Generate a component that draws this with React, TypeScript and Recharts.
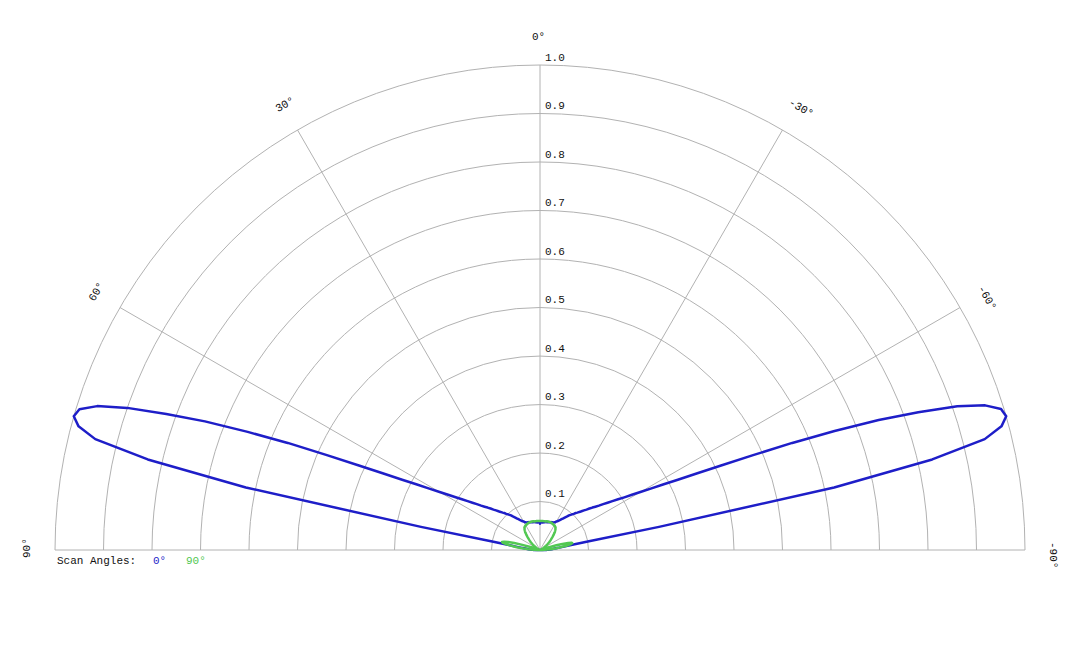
import React from "react";
import {
  RadarChart,
  Radar,
  PolarAngleAxis,
  PolarRadiusAxis,
  Customized,
} from "recharts";

// ---------------- data ----------------
// Pattern cut values, theta in degrees from broadside (0° = up), positive to the left.
// BLUE = scan angle 0°, GREEN = scan angle 90°.
// *_LEFT: theta = 0, 1, 2, ... 90
const BLUE_LEFT = [
  0.054, 0.056, 0.057, 0.058, 0.058, 0.057, 0.057, 0.058, 0.058, 0.058,
  0.058, 0.059, 0.059, 0.059, 0.059, 0.059, 0.060, 0.060, 0.060, 0.061,
  0.061, 0.061, 0.062, 0.062, 0.062, 0.063, 0.063, 0.064, 0.065, 0.066,
  0.068, 0.069, 0.071, 0.073, 0.075, 0.078, 0.080, 0.083, 0.086, 0.089,
  0.093, 0.096, 0.099, 0.102, 0.106, 0.109, 0.113, 0.117, 0.122, 0.127,
  0.133, 0.139, 0.145, 0.152, 0.161, 0.170, 0.180, 0.192, 0.205, 0.221,
  0.239, 0.261, 0.289, 0.319, 0.361, 0.412, 0.481, 0.565, 0.650, 0.740,
  0.820, 0.900, 0.960, 0.993, 1.000, 0.985, 0.945, 0.830, 0.620, 0.250,
  0.100, 0.065, 0.050, 0.040, 0.033, 0.028, 0.024, 0.020, 0.017, 0.015,
  0.013,
];
// *_RIGHT: theta = -1, -2, ... -90
const BLUE_RIGHT = [
  0.056, 0.057, 0.058, 0.058, 0.057, 0.057, 0.058, 0.058, 0.058, 0.058,
  0.059, 0.059, 0.059, 0.059, 0.059, 0.060, 0.060, 0.060, 0.061, 0.061,
  0.061, 0.062, 0.062, 0.062, 0.063, 0.063, 0.064, 0.065, 0.066, 0.068,
  0.069, 0.071, 0.073, 0.075, 0.078, 0.080, 0.083, 0.086, 0.089, 0.093,
  0.096, 0.099, 0.102, 0.106, 0.109, 0.113, 0.117, 0.122, 0.127, 0.133,
  0.139, 0.145, 0.152, 0.161, 0.170, 0.180, 0.192, 0.205, 0.221, 0.239,
  0.261, 0.289, 0.319, 0.361, 0.412, 0.481, 0.565, 0.655, 0.748, 0.830,
  0.910, 0.965, 0.994, 1.000, 0.985, 0.945, 0.830, 0.620, 0.250, 0.100,
  0.065, 0.050, 0.040, 0.033, 0.028, 0.024, 0.020, 0.017, 0.015, 0.013,
];
const GREEN_LEFT = [
  0.060, 0.060, 0.060, 0.060, 0.060, 0.060, 0.060, 0.060, 0.060, 0.060,
  0.060, 0.060, 0.060, 0.061, 0.061, 0.061, 0.061, 0.061, 0.061, 0.061,
  0.061, 0.061, 0.061, 0.061, 0.060, 0.060, 0.060, 0.060, 0.059, 0.059,
  0.059, 0.058, 0.058, 0.057, 0.057, 0.056, 0.054, 0.053, 0.051, 0.049,
  0.047, 0.044, 0.042, 0.039, 0.037, 0.034, 0.032, 0.030, 0.028, 0.026,
  0.024, 0.022, 0.020, 0.018, 0.017, 0.015, 0.013, 0.012, 0.010, 0.009,
  0.008, 0.007, 0.006, 0.005, 0.004, 0.004, 0.003, 0.003, 0.003, 0.004,
  0.005, 0.008, 0.015, 0.025, 0.040, 0.055, 0.068, 0.076, 0.080, 0.078,
  0.072, 0.064, 0.056, 0.048, 0.040, 0.033, 0.026, 0.019, 0.012, 0.006,
  0.002,
];
const GREEN_RIGHT = [
  0.060, 0.060, 0.060, 0.060, 0.060, 0.060, 0.060, 0.060, 0.060, 0.060,
  0.060, 0.060, 0.061, 0.061, 0.061, 0.061, 0.061, 0.061, 0.061, 0.061,
  0.061, 0.061, 0.061, 0.060, 0.060, 0.060, 0.060, 0.059, 0.059, 0.059,
  0.058, 0.058, 0.057, 0.057, 0.056, 0.054, 0.053, 0.051, 0.049, 0.047,
  0.044, 0.042, 0.039, 0.037, 0.034, 0.032, 0.030, 0.028, 0.026, 0.024,
  0.022, 0.020, 0.018, 0.017, 0.015, 0.013, 0.012, 0.010, 0.009, 0.008,
  0.007, 0.006, 0.005, 0.004, 0.004, 0.003, 0.003, 0.003, 0.004, 0.004,
  0.007, 0.013, 0.022, 0.035, 0.048, 0.060, 0.067, 0.068, 0.065, 0.060,
  0.053, 0.046, 0.040, 0.034, 0.028, 0.022, 0.016, 0.010, 0.005, 0.002,
];

const RING_TICKS = [0.1, 0.2, 0.3, 0.4, 0.5, 0.6, 0.7, 0.8, 0.9, 1.0];
const SPOKE_ANGLES = [90, 60, 30, 0, -30, -60, -90];
const SPOKE_LABELS = ["90°", "60°", "30°", "0°", "-30°", "-60°", "-90°"];
const LEGEND_TITLE = "Scan Angles:";
const LEGEND_LABELS = ["0°", "90°"];

// ---------------- layout / style ----------------
const CHART_W = 1064;
const CHART_H = 632;
const CX = 532;
const CY = 542;
const OUTER_R = 485;
const LABEL_R = 510;
const FONT = "'Liberation Mono', 'DejaVu Sans Mono', monospace";
const GRID = "#b2b2b2";
const TEXT = "#111111";
const BLUE = "#1e1ec8";
const GREEN = "#52c852";

// full-circle table: k = counter-clockwise degrees from the top; lower half is empty (0)
const tableData = Array.from({ length: 360 }, (_, k) => {
  let blue = 0;
  let green = 0;
  if (k <= 90) {
    blue = BLUE_LEFT[k];
    green = GREEN_LEFT[k];
  } else if (k >= 270) {
    const idx = 359 - k;
    blue = BLUE_RIGHT[idx];
    green = GREEN_RIGHT[idx];
  }
  return { k, blue, green };
});

const Frame = () => {
  return (
    <g>
      {RING_TICKS.map((v) => {
        const r = v * OUTER_R;
        return (
          <path
            key={`ring-${v}`}
            d={`M ${CX - r} ${CY} A ${r} ${r} 0 0 1 ${CX + r} ${CY}`}
            fill="none"
            stroke={GRID}
            strokeWidth={1}
          />
        );
      })}
      {SPOKE_ANGLES.map((a) => {
        const rad = (a * Math.PI) / 180;
        return (
          <line
            key={`spoke-${a}`}
            x1={CX}
            y1={CY}
            x2={CX - OUTER_R * Math.sin(rad)}
            y2={CY - OUTER_R * Math.cos(rad)}
            stroke={GRID}
            strokeWidth={1}
          />
        );
      })}
      {RING_TICKS.map((v) => (
        <text
          key={`rt-${v}`}
          x={CX + 5}
          y={CY - v * OUTER_R - 4.5}
          fontFamily={FONT}
          fontSize={11}
          fill={TEXT}
        >
          {v.toFixed(1)}
        </text>
      ))}
      {SPOKE_ANGLES.map((a, i) => {
        const rad = (a * Math.PI) / 180;
        const px = CX - LABEL_R * Math.sin(rad);
        const py = CY - LABEL_R * Math.cos(rad);
        return (
          <text
            key={`lab-${a}`}
            transform={`translate(${px},${py}) rotate(${-a})`}
            x={-8}
            y={0}
            fontFamily={FONT}
            fontSize={11}
            fill={TEXT}
          >
            {SPOKE_LABELS[i]}
          </text>
        );
      })}
      <text x={49} y={556} fontFamily={FONT} fontSize={11} fill={TEXT}>
        {LEGEND_TITLE}
      </text>
      <text x={145} y={556} fontFamily={FONT} fontSize={11} fill={BLUE}>
        {LEGEND_LABELS[0]}
      </text>
      <text x={178} y={556} fontFamily={FONT} fontSize={11} fill={GREEN}>
        {LEGEND_LABELS[1]}
      </text>
    </g>
  );
};

export default function App() {
  return (
    <div style={{ width: CHART_W, height: CHART_H }}>
      <RadarChart
        width={CHART_W}
        height={CHART_H}
        data={tableData}
        cx={CX}
        cy={CY}
        outerRadius={OUTER_R}
        startAngle={89}
        endAngle={449}
        margin={{ top: 0, right: 0, bottom: 0, left: 0 }}
      >
        <Customized component={Frame} />
        <PolarAngleAxis dataKey="k" tick={false} tickLine={false} axisLine={false} />
        <PolarRadiusAxis angle={90} domain={[0, 1]} tick={false} axisLine={false} />
        <Radar
          dataKey="blue"
          stroke={BLUE}
          strokeWidth={2.5}
          strokeLinejoin="round"
          fill="none"
          fillOpacity={0}
          dot={false}
          isAnimationActive={false}
        />
        <Radar
          dataKey="green"
          stroke={GREEN}
          strokeWidth={2.5}
          strokeLinejoin="round"
          fill="none"
          fillOpacity={0}
          dot={false}
          isAnimationActive={false}
        />
      </RadarChart>
    </div>
  );
}
